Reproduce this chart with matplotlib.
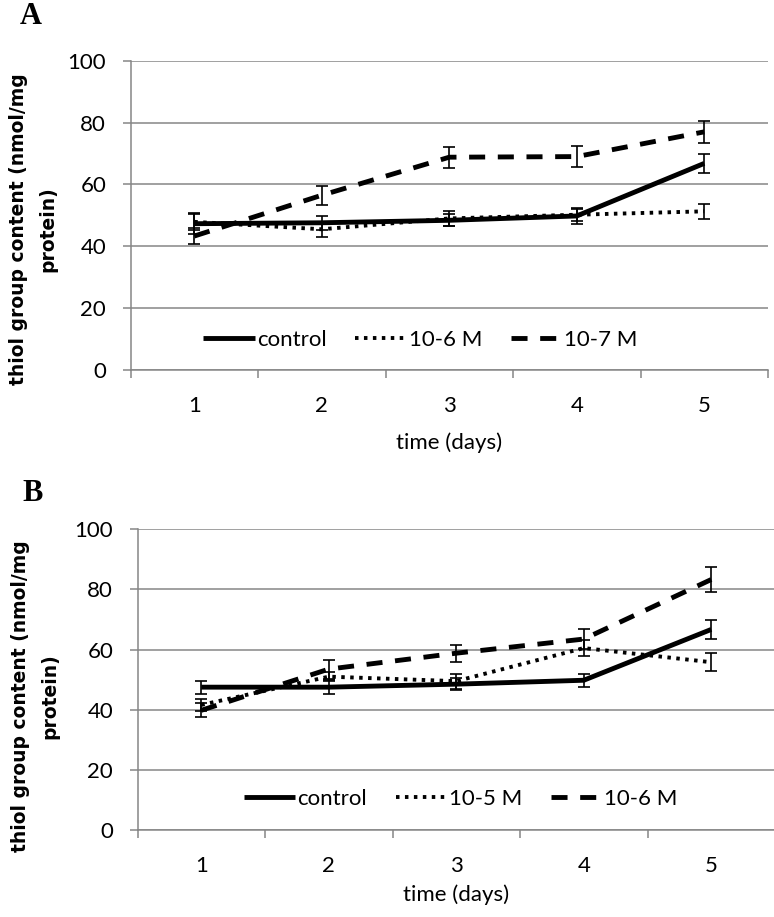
import numpy as np
import matplotlib.pyplot as plt

days = [1, 2, 3, 4, 5]

# panel A
a_control = [47.3, 47.6, 48.4, 49.8, 66.8]
a_control_err = [3.4, 2.2, 2.0, 2.5, 3.0]
a_m6 = [47.9, 45.5, 49.0, 50.2, 51.3]
a_m6_err = [2.5, 2.4, 2.4, 2.0, 2.5]
a_m7 = [43.3, 56.5, 68.8, 69.0, 77.0]
a_m7_err = [2.6, 3.0, 3.4, 3.3, 3.5]
a_labels = ["control", "10-6 M", "10-7 M"]

# panel B
b_control = [47.5, 47.5, 48.5, 49.8, 66.7]
b_control_err = [2.2, 2.3, 2.0, 2.1, 3.3]
b_m5 = [41.6, 51.0, 49.5, 60.5, 55.8]
b_m5_err = [2.0, 1.6, 2.5, 2.6, 2.9]
b_m6 = [39.8, 53.5, 58.8, 63.5, 83.3]
b_m6_err = [2.3, 3.2, 2.8, 3.2, 4.3]
b_labels = ["control", "10-5 M", "10-6 M"]

yticks = [0, 20, 40, 60, 80, 100]
ylab = "thiol group content (nmol/mg\nprotein)"
grey = "#868686"
tickfont = "Lato"

fig = plt.figure(figsize=(7.74, 9.17), dpi=100)
W, H = 774.0, 917.0


def panel(rect, series, errs, labels, leg_xy):
    ax = fig.add_axes(rect)
    styles = [dict(ls="-", lw=3.5, solid_capstyle="butt"),
              dict(ls=(0, (0.9, 1.4)), lw=2.8),
              dict(ls=(0, (3.3, 2.6)), lw=3.5)]
    handles = []
    for s, e, st, lab in zip(series, errs, styles, labels):
        ax.errorbar(days, s, yerr=e, fmt="none", ecolor="black",
                    elinewidth=1.2, capsize=4, capthick=1.2, zorder=3)
        h, = ax.plot(days, s, color="black", label=lab, zorder=4, **st)
        handles.append(h)
    ax.set_xlim(0.5, 5.5)
    ax.set_ylim(0, 100)
    ax.set_yticks(yticks)
    ax.set_yticklabels([str(v) for v in yticks], fontsize=16, family=tickfont)
    ax.yaxis.grid(True, color=grey, lw=1.1)
    ax.set_axisbelow(True)
    ax.set_xticks(np.arange(0.5, 6, 1))
    ax.set_xticklabels([])
    ax.set_xticks(days, minor=True)
    ax.set_xticklabels([str(d) for d in days], minor=True, fontsize=16, family=tickfont)
    ax.tick_params(axis="x", which="major", length=6, width=1.1, color=grey, direction="out")
    ax.tick_params(axis="x", which="minor", length=0, pad=19)
    ax.tick_params(axis="y", length=5.5, width=1.1, color=grey, pad=12)
    for sp in ["top", "right"]:
        ax.spines[sp].set_visible(False)
    for sp in ["left", "bottom"]:
        ax.spines[sp].set_color(grey)
        ax.spines[sp].set_linewidth(1.1)
    ax.legend(handles=handles, loc="center", bbox_to_anchor=leg_xy, ncol=3,
              frameon=False, handlelength=2.3, handletextpad=0.1,
              columnspacing=1.3, prop={"family": tickfont, "size": 16})
    return ax


# panel A geometry (pixels): x 130.5-768, y 60.7-370
axA = panel([130.5 / W, 1 - 370 / H, 637.5 / W, 309.3 / H],
            [a_control, a_m6, a_m7], [a_control_err, a_m6_err, a_m7_err],
            a_labels, (0.455, 0.097))
axA.text(0.5, (370 - 443) / 309.3, "time (days)", transform=axA.transAxes,
         ha="center", va="center", fontsize=16, family=tickfont)

# panel B geometry: x 137.5-775, y 529.3-830
axB = panel([137.5 / W, 1 - 830 / H, 637.5 / W, 300.7 / H],
            [b_control, b_m5, b_m6], [b_control_err, b_m5_err, b_m6_err],
            b_labels, (0.507, 0.104))
axB.text(0.5, (830 - 895) / 300.7, "time (days)", transform=axB.transAxes,
         ha="center", va="center", fontsize=16, family=tickfont)

fig.text(33 / W, 1 - 229 / H, ylab, rotation=90, ha="center", va="center",
         fontsize=13.5, fontweight="bold", family="DejaVu Sans",
         multialignment="center", linespacing=1.7)
fig.text(35 / W, 1 - 696 / H, ylab, rotation=90, ha="center", va="center",
         fontsize=13.5, fontweight="bold", family="DejaVu Sans",
         multialignment="center", linespacing=1.7)

fig.text(20 / W, 1 - 17 / H, "A", ha="left", va="center", fontsize=22,
         fontweight="bold", family="Liberation Serif")
fig.text(22 / W, 1 - 494 / H, "B", ha="left", va="center", fontsize=22,
         fontweight="bold", family="Liberation Serif")

fig.savefig("out.png", dpi=100)
